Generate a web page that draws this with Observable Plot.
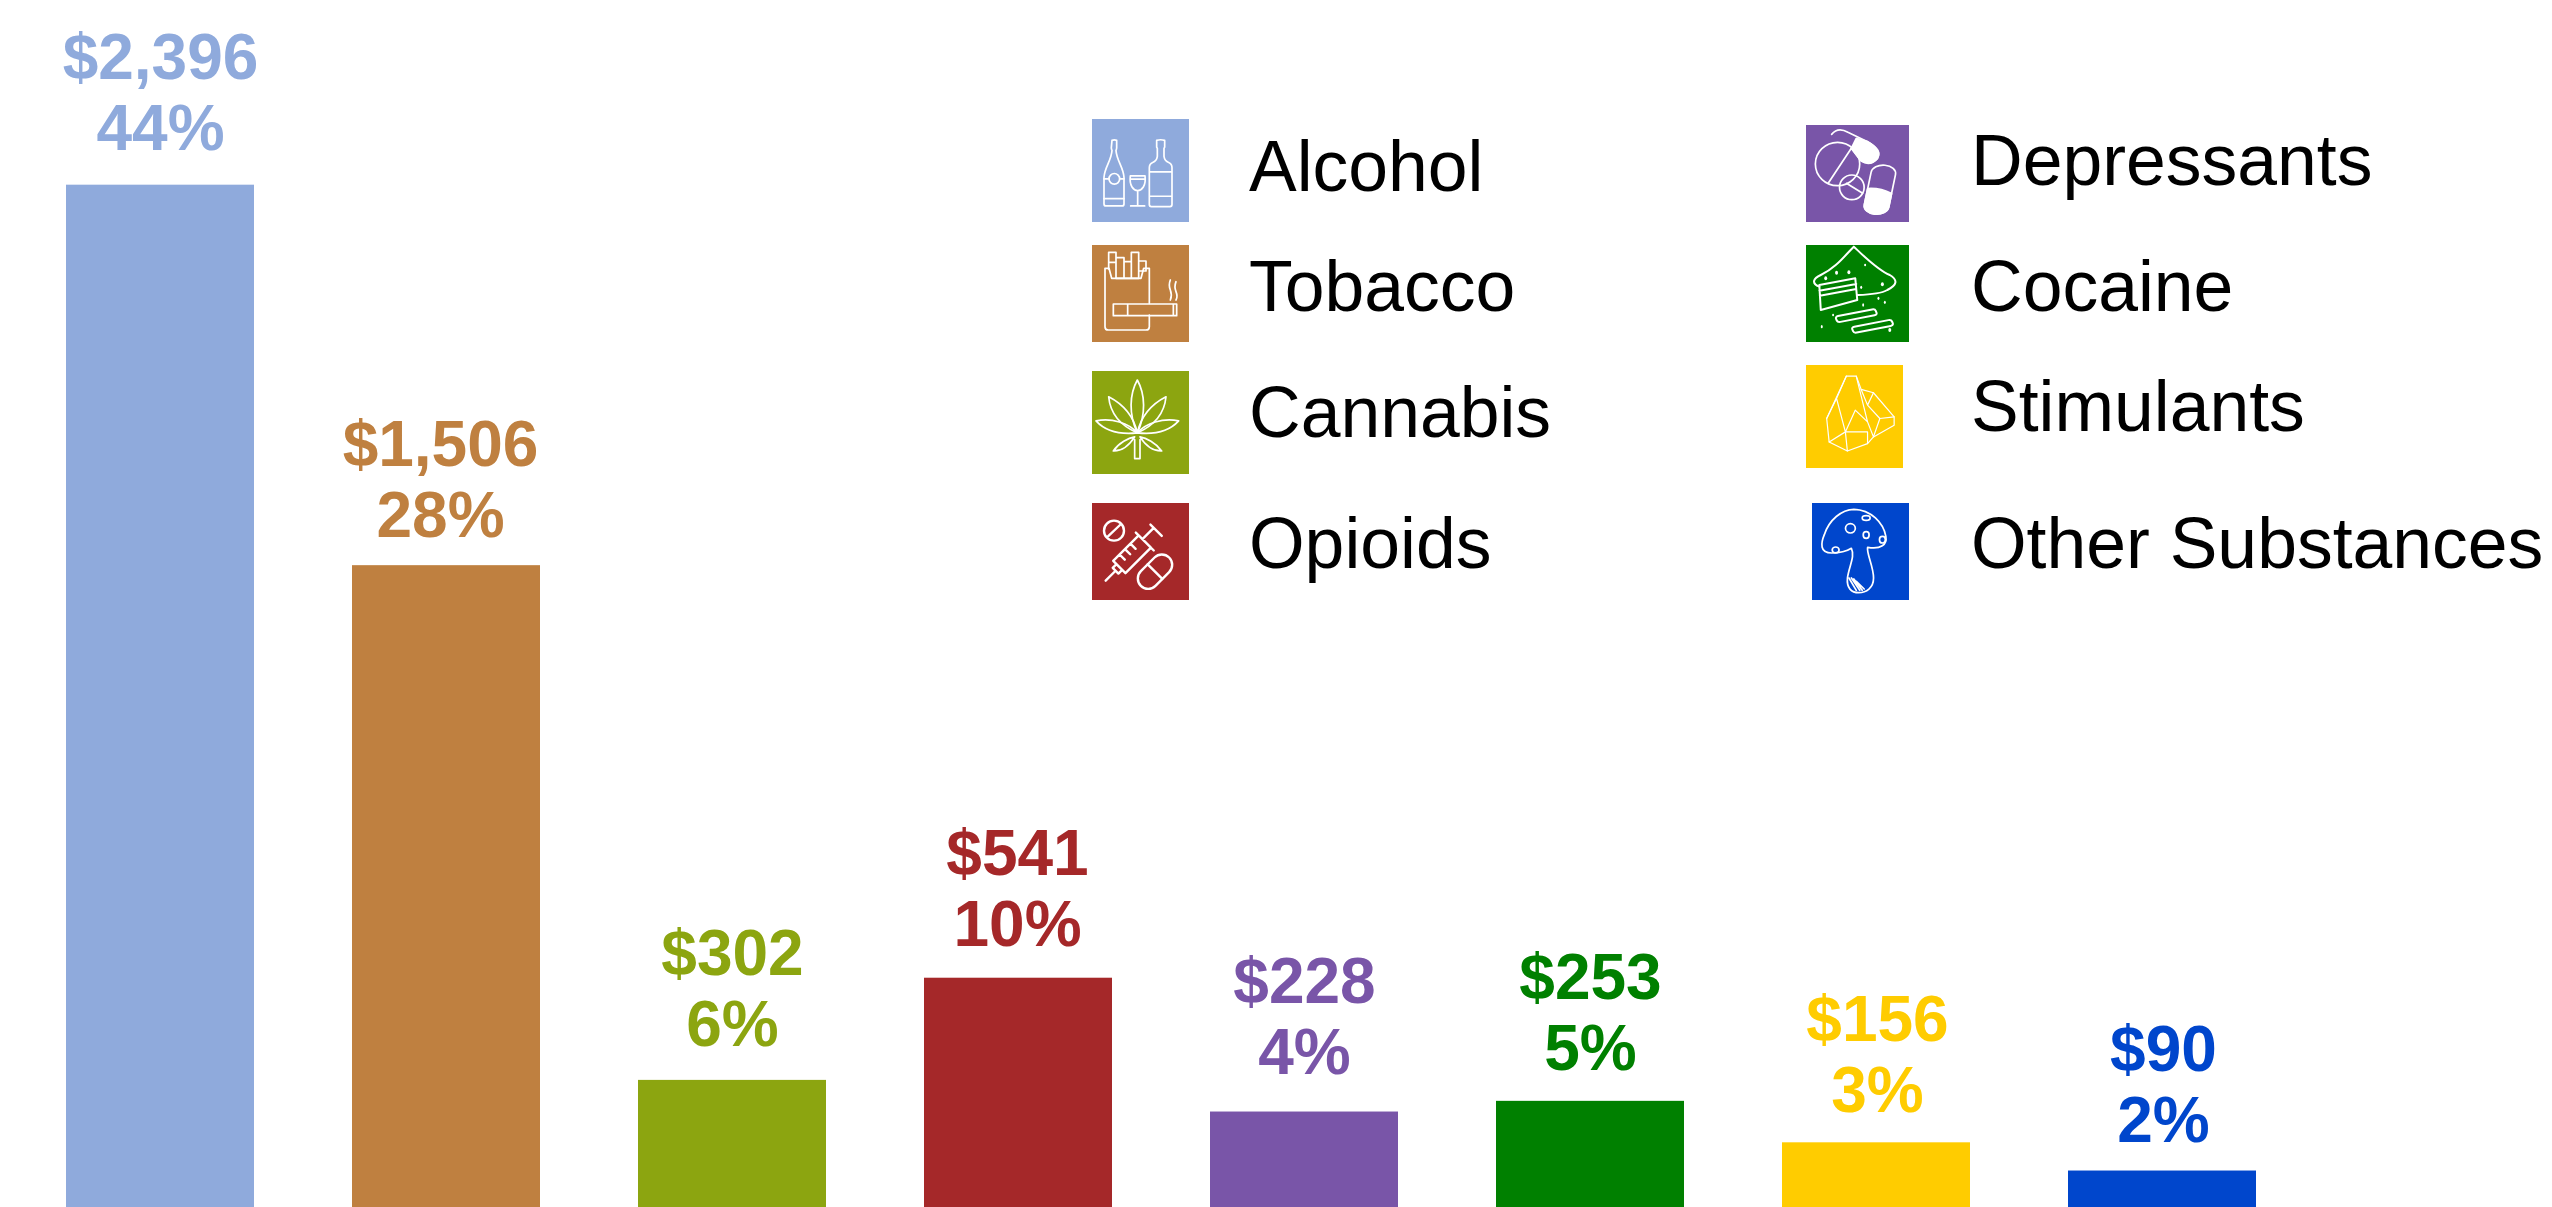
<!DOCTYPE html>
<html>
<head>
<meta charset="utf-8">
<script src="https://cdn.jsdelivr.net/npm/d3@7"></script>
<script src="https://cdn.jsdelivr.net/npm/@observablehq/plot@0.6"></script>
<style>
html,body{margin:0;padding:0;background:#fff;width:2552px;height:1207px;overflow:hidden}
#chart{position:absolute;left:0;top:0}
#legend{position:absolute;left:0;top:0}
</style>
</head>
<body>
<div id="chart"></div>
<svg id="legend" width="2552" height="1207" xmlns="http://www.w3.org/2000/svg"></svg>
<script>
const substances = ["Alcohol","Tobacco","Cannabis","Opioids","Depressants","Cocaine","Stimulants","Other Substances"];
const costs = [2396,1506,302,541,228,253,156,90];
const shares = [44,28,6,10,4,5,3,2];
const colors = ["#8FAADC","#BF8040","#8CA510","#A52829","#7955A8","#008000","#FFCC00","#0046CC"];

const rows = substances.map((name,i)=>({name,cost:costs[i],share:shares[i],color:colors[i]}));
const money = d3.format("$,");

// hand placement of each value label, relative to the top of its bar
const labelDx = [0,-6,0,-1,0,0,1,1];
const labelDy = [-35,-29,-34,-32,-38,-31,-31,-29];

const plot = Plot.plot({
  width:2552,height:1207,
  marginTop:0,marginBottom:0,marginLeft:0,marginRight:0,
  style:{background:"#fff",overflow:"hidden"},
  x:{type:"band",domain:substances,range:[64.5,2258],paddingInner:0.342,paddingOuter:0,axis:null},
  y:{domain:[0,2828],range:[1209,0],axis:null},
  marks:[
    Plot.barY(rows,{x:"name",y:"cost",fill:"color"}),
    ...rows.map((r,i)=>Plot.text([r],{x:"name",y:"cost",text:d=>money(d.cost)+"\n"+d.share+"%",fill:"color",
      fontFamily:"Liberation Sans",fontWeight:"bold",fontSize:64,lineHeight:71/64,lineAnchor:"bottom",dx:labelDx[i],dy:labelDy[i]}))
  ]
});
document.getElementById("chart").append(plot);

// Legend icons, each drawn in its own box and stretched to the swatch
const icons = {
"Alcohol":{vb:"0 0 291 308",art:`
<path d="M60 64q7-3 14 0v22q0 4-2 8c2 30 22 50 24 80v80q0 6-6 6H42q-6 0-6-6v-80c2-30 22-50 24-80q-2-4-2-8z"/>
<circle cx="67" cy="179" r="16"/><path d="M36 179h15M83 179h13M36 238h60"/>
<path d="M115 170h44c4 30-10 44-22 44s-26-14-22-44zM115 180h44M137 214v46M116 260h42"/>
<path d="M194 64q12-4 24 0v20l-2 4v24q2 14 14 18q10 4 10 16v110q0 6-6 6h-56q-6 0-6-6V146q0-12 10-16q12-4 14-18V88l-2-4zM172 158h68M172 231h68"/>`},
"Tobacco":{vb:"0 0 291 291",art:`
<path d="M172 175V70M39 70v175q0 10 10 10h113q10 0 10-10v-35M39 70h12l8 30h88l8-30h17"/>
<path d="M50 22h22v30H50zM50 52v20M72 38h24v62H72zM96 50h22v50H96zM118 22h22v78h-22zM140 48h22v30h-22z"/>
<path d="M64 177h190v35H64zM107 177v35M244 177v35"/>
<path d="M235 105q-6 15 0 30t0 30M252 110q-6 15 0 30t0 25"/>`},
"Cannabis":{vb:"0 0 291 308",art:`
<path d="M136 185C110 130 112 70 136 27C160 70 162 130 136 185z"/>
<path d="M136 185C90 165 55 130 50 77C95 100 125 135 136 185zM136 185C182 165 217 130 222 77C177 100 147 135 136 185z"/>
<path d="M136 185C90 190 45 185 12 149C60 140 110 155 136 185zM136 185C182 190 227 185 260 149C212 140 162 155 136 185z"/>
<path d="M128 197C110 225 90 240 64 239C80 215 110 200 128 197zM144 197C162 225 182 240 209 239C192 215 162 200 144 197zM128 205v57h16v-57"/>`},
"Opioids":{vb:"0 0 291 291",sw:2.4,art:`
<circle cx="66" cy="83" r="30"/><path d="M48 100L84 66"/>
<g transform="translate(41 233) rotate(-45)"><path d="M0 0H42M42-12h16v24H42zM58-26H166V26H58zM166-38V38M166-10H214M214-24V24M85-26v22M108-26v22M131-26v22"/></g>
<g transform="translate(189 206) rotate(-45)"><rect x="-60" y="-31" width="120" height="62" rx="31"/><path d="M0-31V31"/></g>`},
"Depressants":{vb:"0 0 209 291",art:`
<ellipse cx="64" cy="117" rx="45" ry="65"/><path d="M45 175L92 70"/>
<ellipse cx="93" cy="187" rx="25" ry="37"/><path d="M82 175L115 205"/>
<path d="M52 28Q65 5 85 22L125 50Q155 75 145 100Q130 125 110 105L92 70"/>
<path fill="#fff" d="M102 40L125 50Q155 75 145 100Q130 125 112 108L92 70z"/>
<g transform="translate(150 194) rotate(8)"><rect x="-25" y="-74" width="50" height="148" rx="25"/>
<path fill="#fff" d="M-25 0Q0 -6 25 8V49A25 25 0 0 1-25 49z"/></g>`},
"Cocaine":{vb:"0 0 209 291",sw:2,art:`
<path d="M27 125C10 115 15 100 30 90C60 70 80 30 97 5C115 30 145 75 170 90C187 105 185 120 165 135Q150 148 105 150"/>
<path d="M27 120L100 100L104 165L30 195zM27 137L102 117M28 152L102 132"/>
<g transform="translate(102 212) rotate(-16)"><rect x="-42" y="-9" width="84" height="18" rx="6"/></g>
<g transform="translate(135 244) rotate(-16)"><rect x="-42" y="-9" width="84" height="18" rx="6"/></g>
<g fill="#fff" stroke="none"><ellipse cx="62" cy="83" rx="3" ry="6"/><ellipse cx="87" cy="82" rx="3" ry="6"/><ellipse cx="120" cy="60" rx="2" ry="4"/><ellipse cx="155" cy="118" rx="3" ry="6"/><ellipse cx="112" cy="127" rx="2" ry="5"/><ellipse cx="147" cy="160" rx="2" ry="5"/><ellipse cx="160" cy="172" rx="2" ry="5"/><ellipse cx="116" cy="180" rx="2" ry="5"/><ellipse cx="32" cy="245" rx="2" ry="5"/><ellipse cx="170" cy="255" rx="3" ry="6"/><ellipse cx="40" cy="100" rx="3" ry="6"/><ellipse cx="55" cy="210" rx="2" ry="4"/></g>`},
"Stimulants":{vb:"0 0 197 308",sw:1.2,art:`
<path d="M82 33H102L112 73L137 83L179 155V180L137 215L125 235L84 257L47 230L42 160z"/>
<path d="M82 33L62 100L42 160M102 33L125 170L137 215M62 100L80 200L47 230M80 200L100 135L125 170M80 200L125 200L125 235M112 73L125 120L137 83M125 120L150 160L179 155M150 160L137 215M80 200L84 257"/>`},
"Other Substances":{vb:"0 0 197 291",art:`
<path d="M40 150C15 150 18 120 25 95C35 50 60 20 85 19C120 20 145 60 150 100C153 125 140 140 113 133C110 150 125 190 125 225C125 255 110 269 95 269C80 269 70 255 72 225C75 190 88 160 80 136C65 150 50 150 40 150z"/>
<ellipse cx="78" cy="76" rx="10" ry="14"/><ellipse cx="110" cy="96" rx="6" ry="10"/><ellipse cx="48" cy="141" rx="7" ry="9"/><ellipse cx="143" cy="110" rx="6" ry="10"/><ellipse cx="110" cy="45" rx="8" ry="7"/>
<path d="M75 225L90 262M80 225L97 262M85 228L102 262M90 235L106 258"/>`}
};

// name, swatch x0,x1,y0,y1, text x, text baseline
const legendLayout = [
 ["Alcohol",1092,1189,119,222,1249,191],
 ["Tobacco",1092,1189,245,342,1249,311],
 ["Cannabis",1092,1189,371,474,1249,437],
 ["Opioids",1092,1189,503,600,1249,568],
 ["Depressants",1806,1909,125,222,1971,185],
 ["Cocaine",1806,1909,245,342,1971,311],
 ["Stimulants",1806,1903,365,468,1971,431],
 ["Other Substances",1812,1909,503,600,1971,568]
];
let html = "";
for (const [name,x0,x1,y0,y1,tx,ty] of legendLayout) {
  const c = colors[substances.indexOf(name)], ic = icons[name];
  html += `<rect x="${x0}" y="${y0}" width="${x1-x0}" height="${y1-y0}" fill="${c}"/>`;
  html += `<svg x="${x0}" y="${y0}" width="${x1-x0}" height="${y1-y0}" viewBox="${ic.vb}" preserveAspectRatio="none"><g fill="none" stroke="#fff" stroke-width="${ic.sw||1.7}" stroke-linejoin="round" stroke-linecap="round">${ic.art}</g></svg>`;
  html += `<text x="${tx}" y="${ty}" font-family="Liberation Sans" font-size="71.5" fill="#000">${name}</text>`;
}
const legend = document.getElementById("legend");
legend.innerHTML = html;
legend.querySelectorAll("svg *").forEach(e=>{ if(e.tagName!=="g") e.setAttribute("vector-effect","non-scaling-stroke"); });
</script>
</body>
</html>
